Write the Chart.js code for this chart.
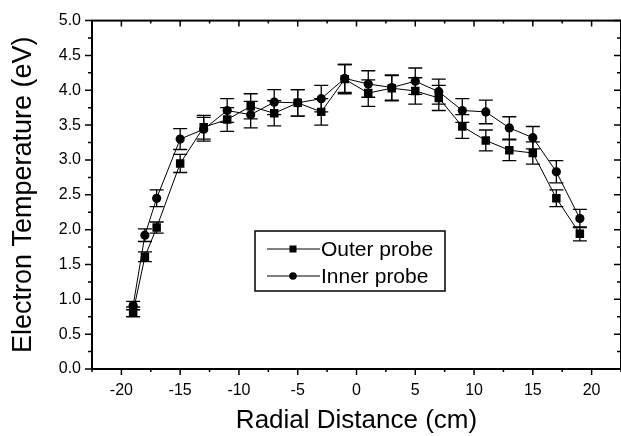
<!DOCTYPE html>
<html>
<head>
<meta charset="utf-8">
<script src="https://cdn.jsdelivr.net/npm/chart.js@4/dist/chart.umd.min.js"></script>
<style>
  html, body { margin: 0; padding: 0; background: #fff; }
  #wrap { width: 621px; height: 436px; position: relative; }
</style>
</head>
<body>
<div id="wrap"><canvas id="temp-chart" width="621" height="436"></canvas></div>
<script>
// values
const radialDistance = [-19, -18, -17, -15, -13, -11, -9, -7, -5, -3, -1, 1, 3, 5, 7, 9, 11, 13, 15, 17, 19];
const outerProbe = [0.82, 1.61, 2.03, 2.95, 3.47, 3.58, 3.77, 3.67, 3.82, 3.69, 4.16, 3.96, 4.03, 3.99, 3.89, 3.48, 3.28, 3.14, 3.10, 2.45, 1.94];
const outerError = [0.07, 0.07, 0.08, 0.13, 0.17, 0.17, 0.18, 0.18, 0.19, 0.19, 0.21, 0.19, 0.18, 0.19, 0.18, 0.17, 0.15, 0.15, 0.16, 0.12, 0.10];
const innerProbe = [0.91, 1.92, 2.45, 3.30, 3.44, 3.71, 3.65, 3.83, 3.82, 3.88, 4.17, 4.09, 4.04, 4.13, 3.98, 3.71, 3.69, 3.46, 3.32, 2.83, 2.16];
const innerError = [0.06, 0.09, 0.12, 0.15, 0.17, 0.17, 0.19, 0.18, 0.19, 0.19, 0.20, 0.19, 0.18, 0.19, 0.18, 0.17, 0.17, 0.16, 0.16, 0.16, 0.13];
const seriesNames = ['Outer probe', 'Inner probe'];
const xTickValues = [-20, -15, -10, -5, 0, 5, 10, 15, 20];
const yTickValues = [0, 0.5, 1, 1.5, 2, 2.5, 3, 3.5, 4, 4.5, 5];

const FONT = "'Liberation Sans', Arial, sans-serif";

document.addEventListener("DOMContentLoaded", () => {
  const ctx = document.getElementById('temp-chart').getContext('2d');

  const toPoints = (ys) => radialDistance.map((x, i) => ({ x: x, y: ys[i] }));
  const errors = [outerError, innerError];

  // vertical error bars with caps, under the markers
  const errorBars = {
    id: 'errorBars',
    beforeDatasetsDraw(chart) {
      const c = chart.ctx;
      const xs = chart.scales.x, ys = chart.scales.y;
      c.save();
      c.strokeStyle = '#000';
      c.lineWidth = 1.3;
      chart.data.datasets.forEach((ds, d) => {
        ds.data.forEach((p, i) => {
          const px = xs.getPixelForValue(p.x);
          const top = ys.getPixelForValue(p.y + errors[d][i]);
          const bot = ys.getPixelForValue(p.y - errors[d][i]);
          c.beginPath();
          c.moveTo(px, top); c.lineTo(px, bot);
          c.moveTo(px - 7, top); c.lineTo(px + 7, top);
          c.moveTo(px - 7, bot); c.lineTo(px + 7, bot);
          c.stroke();
        });
      });
      c.restore();
    }
  };

  // box frame, tick marks and the legend
  const frame = {
    id: 'frame',
    afterDraw(chart) {
      const c = chart.ctx;
      const a = chart.chartArea;
      const xs = chart.scales.x, ys = chart.scales.y;
      c.save();
      c.strokeStyle = '#000';
      c.lineWidth = 2;
      c.strokeRect(a.left, a.top, a.right - a.left, a.bottom - a.top);

      c.lineWidth = 1.5;
      c.beginPath();
      for (let v = xs.min; v <= xs.max + 1e-9; v += 2.5) {
        const major = Math.abs(v % 5) < 1e-9;
        const px = xs.getPixelForValue(v);
        const len = major ? 6 : 3;
        c.moveTo(px, a.bottom); c.lineTo(px, a.bottom + len);
        c.moveTo(px, a.top); c.lineTo(px, a.top + len);
      }
      for (let v = ys.min; v <= ys.max + 1e-9; v += 0.25) {
        const major = Math.abs((v * 2) % 1) < 1e-9;
        const py = ys.getPixelForValue(v);
        const len = major ? 7 : 4;
        c.moveTo(a.left, py); c.lineTo(a.left - len, py);
        c.moveTo(a.right, py); c.lineTo(a.right - len, py);
      }
      c.stroke();

      // legend box
      const lx = 255, ly = 231, lw = 190, lh = 60;
      c.fillStyle = '#fff';
      c.fillRect(lx, ly, lw, lh);
      c.lineWidth = 1.5;
      c.strokeRect(lx, ly, lw, lh);
      c.font = '21px ' + FONT;
      c.textBaseline = 'middle';
      chart.data.datasets.forEach((ds, d) => {
        const y = ly + 18 + d * 27;
        c.lineWidth = 1;
        c.beginPath();
        c.moveTo(lx + 12, y); c.lineTo(lx + 65, y);
        c.stroke();
        c.fillStyle = '#000';
        const mx = lx + 38;
        if (ds.pointStyle === 'rect') {
          c.fillRect(mx - 3.5, y - 3.5, 7, 7);
        } else {
          c.beginPath(); c.arc(mx, y, 3.8, 0, Math.PI * 2); c.fill();
        }
        c.fillText(seriesNames[d], lx + 66, y + 1);
      });
      c.restore();
    }
  };

  new Chart(ctx, {
    type: 'scatter',
    data: {
      datasets: [
        {
          label: seriesNames[0],
          data: toPoints(outerProbe),
          showLine: true,
          borderColor: '#000',
          borderWidth: 1,
          backgroundColor: '#000',
          pointStyle: 'rect',
          pointRadius: 6,
          pointBorderWidth: 0
        },
        {
          label: seriesNames[1],
          data: toPoints(innerProbe),
          showLine: true,
          borderColor: '#000',
          borderWidth: 1,
          backgroundColor: '#000',
          pointStyle: 'circle',
          pointRadius: 4.6,
          pointBorderWidth: 0
        }
      ]
    },
    options: {
      responsive: false,
      animation: false,
      layout: { autoPadding: false, padding: { top: 19, right: -2, left: 0, bottom: 0 } },
      plugins: {
        legend: { display: false },
        tooltip: { enabled: false }
      },
      scales: {
        x: {
          type: 'linear',
          min: -22.5,
          max: 22.5,
          afterBuildTicks(scale) { scale.ticks = xTickValues.map(v => ({ value: v })); },
          afterFit(scale) { scale.height = 67; scale.paddingLeft = 0; scale.paddingRight = 0; },
          grid: { display: false, drawTicks: false },
          border: { display: false },
          ticks: {
            padding: 12,
            autoSkip: false,
            maxRotation: 0,
            color: '#000',
            font: { family: FONT, size: 16 },
            callback: (v) => String(v)
          },
          title: {
            display: true,
            text: 'Radial Distance (cm)',
            color: '#000',
            font: { family: FONT, size: 26 },
            padding: { top: 6, bottom: 0 }
          }
        },
        y: {
          min: 0,
          max: 5,
          afterBuildTicks(scale) { scale.ticks = yTickValues.map(v => ({ value: v })); },
          afterFit(scale) { scale.width = 92; },
          grid: { display: false, drawTicks: false },
          border: { display: false },
          ticks: {
            padding: 11,
            autoSkip: false,
            color: '#000',
            font: { family: FONT, size: 16 },
            callback: (v) => v.toFixed(1)
          },
          title: {
            display: true,
            text: 'Electron Temperature (eV)',
            color: '#000',
            font: { family: FONT, size: 27 },
            padding: { top: 7, bottom: 0 }
          }
        }
      }
    },
    plugins: [errorBars, frame]
  });
});
</script>
</body>
</html>
